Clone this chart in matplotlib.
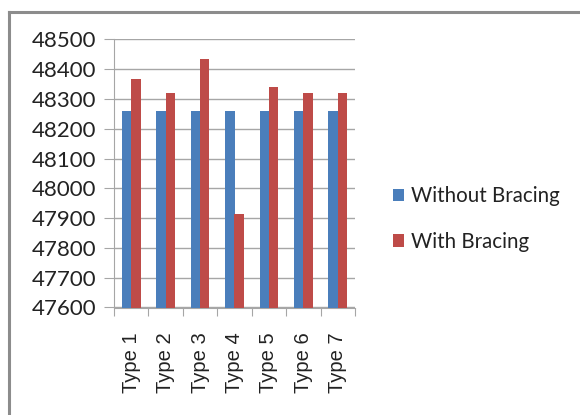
import matplotlib
matplotlib.use("Agg")
import matplotlib.pyplot as plt
import numpy as np

categories = ["Type 1", "Type 2", "Type 3", "Type 4", "Type 5", "Type 6", "Type 7"]
without_bracing = [48260, 48260, 48260, 48260, 48260, 48260, 48260]
with_bracing = [48366, 48319, 48435, 47914, 48339, 48319, 48321]
y_ticks = [47600, 47700, 47800, 47900, 48000, 48100, 48200, 48300, 48400, 48500]

plt.rcParams["font.family"] = ["Lato", "DejaVu Sans"]

W, H = 580, 415
fig = plt.figure(figsize=(W / 100, H / 100), dpi=100)

# outer chart frame (top and left edges)
fig.add_artist(plt.Line2D([8.5 / W, 1], [1 - 12.5 / H, 1 - 12.5 / H], color="#8c8c8c", lw=2.2))
fig.add_artist(plt.Line2D([8.5 / W, 8.5 / W], [0, 1 - 12.5 / H], color="#8c8c8c", lw=2.2))

left, right, top, bottom = 114, 355, 39.5, 307.5
ax = fig.add_axes([left / W, 1 - bottom / H, (right - left) / W, (bottom - top) / H])

x = np.arange(len(categories))
bw = 0.27
ax.bar(x - bw / 2, without_bracing, width=bw, color="#4a7ebb", label="Without Bracing", zorder=3)
ax.bar(x + bw / 2, with_bracing, width=bw, color="#be4b48", label="With Bracing", zorder=3)

ax.set_xlim(-0.5, len(categories) - 0.5)
ax.set_ylim(47600, 48500)
ax.set_yticks(y_ticks)
ax.set_yticklabels([str(v) for v in y_ticks], fontsize=16, color="#222222")
ax.yaxis.grid(True, color="#a6a6a6", lw=1.0, zorder=0)
ax.tick_params(axis="y", length=7, color="#a6a6a6", pad=6)

ax.set_xticks(np.arange(len(categories) + 1) - 0.5, minor=False)
ax.set_xticklabels([])
ax.set_xticks(x, minor=True)
ax.set_xticklabels(categories, minor=True, rotation=90, fontsize=14.5, color="#222222",
                   family=["Liberation Sans", "DejaVu Sans"])
ax.tick_params(axis="x", which="major", length=6, color="#a6a6a6")
ax.tick_params(axis="x", which="minor", length=0, pad=18)

for s in ["top", "right"]:
    ax.spines[s].set_visible(False)
for s in ["left", "bottom"]:
    ax.spines[s].set_color("#a6a6a6")

leg = fig.legend(loc="center left", bbox_to_anchor=(374 / W, 1 - 219 / H), frameon=False,
                 fontsize=14.8, handlelength=0.55, handleheight=0.55, handletextpad=0.35,
                 labelspacing=1.25)
for t in leg.get_texts():
    t.set_color("#222222")

fig.savefig("out.png", dpi=100)
